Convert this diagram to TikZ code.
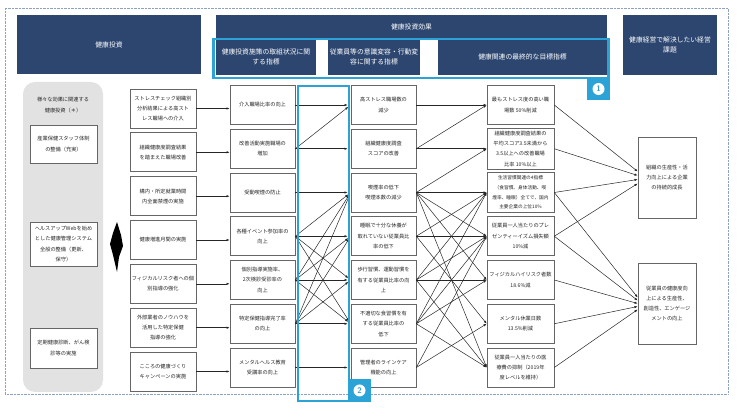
\documentclass[tikz,border=0pt]{standalone}
\usepackage{fontspec}
\newfontfamily\jp{Noto Sans CJK JP}
\usetikzlibrary{arrows.meta}
\definecolor{navyhead}{HTML}{2C4670}
\definecolor{hilite}{HTML}{2BA3D6}
\definecolor{panelgray}{HTML}{E2E2E2}
\definecolor{framedot}{HTML}{8DA2C2}

\begin{document}
\begin{tikzpicture}[x=1pt,y=-1pt]
	\tikzset{
		head/.style={fill=navyhead, text=white, inner sep=1pt, align=center,
			font=\jp\fontsize{6.8}{10}\selectfont},
		box/.style={draw=black!60, fill=white, line width=0.6pt, align=center,
			inner sep=1pt, text=black!85, minimum height=39pt,
			font=\jp\fontsize{5.2}{10.3}\selectfont},
		colbox/.style={box, minimum width=#1},
		note/.style={align=center, text=black!85, font=\jp\fontsize{5.2}{10.3}\selectfont},
		arr/.style={-{Latex[length=3.2pt,width=2.4pt]}, line width=0.5pt, black!85},
		badge/.style={circle, fill=white, inner sep=0pt, minimum size=12pt,
			text=hilite, font=\sffamily\bfseries\fontsize{8}{8}\selectfont}
	}
	\useasboundingbox (0,0) rectangle (740,411);
	
	%% FRAME
	\draw[framedot, line width=0.7pt, dash pattern=on 0.7pt off 0.7pt] (5,8) rectangle (728,394);
	
	%% HEADERS
	\node[head, minimum width=184pt, minimum height=59pt] (HInv) at (109,44.5) {健康投資};
	\node[head, minimum width=391pt, minimum height=24pt] (HEff) at (411.5,27) {健康投資効果};
	\node[head, minimum width=100pt, minimum height=36pt] (HSub1) at (266,57) {健康投資施策の取組状況に関\\する指標};
	\node[head, minimum width=92pt, minimum height=36pt] (HSub2) at (374,57) {従業員等の意識変容・行動変\\容に関する指標};
	\node[head, minimum width=169pt, minimum height=36pt] (HSub3) at (522.5,57) {健康関連の最終的な目標指標};
	\node[head, minimum width=94pt, minimum height=60pt] (HGoal) at (670,45) {健康経営で解決したい経営\\課題};
	
	%% LEFT PANEL
	\fill[panelgray, rounded corners=12pt] (23,82) rectangle (103,392);
	\node[note] (PNote) at (63,105) {様々な効果に関連する\\健康投資（＊）};
	\node[colbox=67pt, minimum height=38pt] (P1) at (63.5,144) {産業保健スタッフ体制\\の整備（充実）};
	\node[colbox=67pt, minimum height=44pt] (P2) at (63.5,244) {ヘルスアップWebを始め\\とした健康管理システム\\全般の整備（更新、\\保守）};
	\node[colbox=67pt, minimum height=40pt] (P3) at (63.5,348) {定期健康診断、がん検\\診等の実施};
	\fill[black] (117,222) -- (121,235) -- (123,246) -- (119,257) -- (117,272)
		-- (113,255) -- (110,244) -- (113,233) -- cycle;
	
	%% MEASURES
	\node[colbox=66pt] (M1) at (163,108.5) {ストレスチェック組織別\\分析結果による高スト\\レス職場への介入};
	\node[colbox=66pt] (M2) at (163,152.3) {組織健康度調査結果\\を踏まえた職場改善};
	\node[colbox=66pt] (M3) at (163,196.2) {構内・所定就業時間\\内全面禁煙の実施};
	\node[colbox=66pt] (M4) at (163,240) {健康増進月間の実施};
	\node[colbox=66pt] (M5) at (163,283.8) {フィジカルリスク者への個\\別指導の強化};
	\node[colbox=66pt] (M6) at (163,327.7) {外部業者のノウハウを\\活用した特定保健\\指導の強化};
	\node[colbox=66pt] (M7) at (163,371.5) {こころの健康づくり\\キャンペーンの実施};
	
	%% EFFORT INDICATORS
	\node[colbox=65pt] (E1) at (262.5,105) {介入職場比率の向上};
	\node[colbox=65pt] (E2) at (262.5,148.75) {改善活動実施職場の\\増加};
	\node[colbox=65pt] (E3) at (262.5,192.5) {受動喫煙の防止};
	\node[colbox=65pt] (E4) at (262.5,236.25) {各種イベント参加率の\\向上};
	\node[colbox=65pt] (E5) at (262.5,280) {個別指導実施率、\\2次検診受診率の\\向上};
	\node[colbox=65pt] (E6) at (262.5,323.75) {特定保健指導完了率\\の向上};
	\node[colbox=65pt] (E7) at (262.5,367.5) {メンタルヘルス教育\\受講率の向上};
	
	%% BEHAVIOUR INDICATORS
	\node[colbox=65pt] (O1) at (383.5,105) {高ストレス職場数の\\減少};
	\node[colbox=65pt] (O2) at (383.5,148.75) {組織健康度調査\\スコアの改善};
	\node[colbox=65pt] (O3) at (383.5,192.5) {喫煙率の低下\\喫煙本数の減少};
	\node[colbox=65pt] (O4) at (383.5,236.25) {睡眠で十分な休養が\\取れていない従業員比\\率の低下};
	\node[colbox=65pt] (O5) at (383.5,280) {歩行習慣、運動習慣を\\有する従業員比率の向\\上};
	\node[colbox=65pt] (O6) at (383.5,323.75) {不適切な食習慣を有\\する従業員比率の\\低下};
	\node[colbox=65pt] (O7) at (383.5,367.5) {管理者のラインケア\\機能の向上};
	
	%% TARGETS
	\node[colbox=67pt] (T1) at (520.5,105) {最もストレス度の高い職\\場数 50\%削減};
	\node[colbox=67pt, minimum height=41pt] (T2) at (520.5,148.75) {組織健康度調査結果の\\平均スコア3.5未満から\\3.5以上への改善職場\\比率 10\%以上};
	\node[colbox=67pt, minimum height=40pt, font=\jp\fontsize{4.7}{9.6}\selectfont] (T3) at (520.5,192.5) {生活習慣関連の4指標\\（食習慣、身体活動、喫\\煙率、睡眠）全てで、国内\\主要企業の上位10\%};
	\node[colbox=67pt] (T4) at (520.5,236.25) {従業員一人当たりのプレ\\ゼンティーイズム損失額\\10\%減};
	\node[colbox=67pt] (T5) at (520.5,280) {フィジカルハイリスク者数\\18.6\%減};
	\node[colbox=67pt] (T6) at (520.5,323.75) {メンタル休業日数\\13.5\%削減};
	\node[colbox=67pt] (T7) at (520.5,367.5) {従業員一人当たりの医\\療費の抑制（2019年\\度レベルを維持）};
	
	%% GOALS
	\node[colbox=58pt, minimum height=81pt] (G1) at (667,177.5) {組織の生産性・活\\力向上による企業\\の持続的成長};
	\node[colbox=58pt, minimum height=81pt] (G2) at (667,303.5) {従業員の健康度向\\上による生産性、\\創造性、エンゲージ\\メントの向上};
	
	%% ARROWS
	\foreach \i in {1,...,7}
		\draw[arr] (M\i.east) -- (M\i.east -| E\i.west);
	\foreach \a/\b in {1/1,2/1,2/2,3/3,4/3,4/4,4/5,4/6,5/3,5/4,5/5,5/6,6/3,6/4,6/5,6/6,7/7}
		\draw[arr, shorten >=3pt] (E\a.east) -- (O\b.west);
	\foreach \a/\b in {1/1,2/1,2/2,3/2,3/3,3/4,3/5,3/7,4/3,4/4,4/6,5/3,5/4,5/5,5/7,6/3,6/4,6/5,6/7,7/4,7/6}
		\draw[arr] (O\a.east) -- (T\b.west);
	\foreach \a/\s in {1/6,2/2,3/-2,4/-6}
		\draw[arr] (T\a.east) -- ([yshift=\s pt]G1.west);
	\foreach \a/\s in {3/6,4/3,5/0,6/-3,7/-6}
		\draw[arr] (T\a.east) -- ([yshift=\s pt]G2.west);
	
	%% HIGHLIGHTS
	\draw[hilite, line width=2.5pt] (213.5,39) rectangle (608.5,78);
	\draw[hilite, line width=2.5pt] (298,86) rectangle (349.2,401);
	\fill[hilite] (587,78) rectangle (610,100);
	\node[badge] (B1) at (598.5,89) {1};
	\fill[hilite] (348,379) rectangle (371,402);
	\node[badge] (B2) at (359.5,390.5) {2};
	
\end{tikzpicture}
\end{document}
